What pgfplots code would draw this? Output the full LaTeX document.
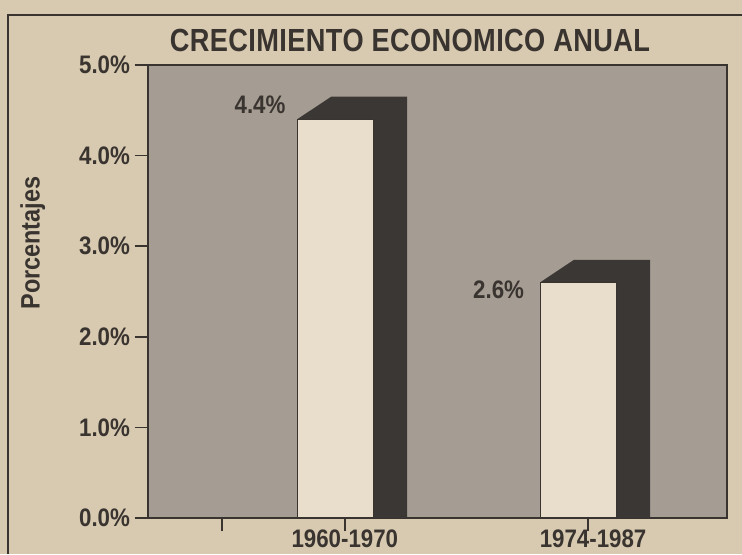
\documentclass[border=0pt]{standalone}
\usepackage{fontspec}
\setmainfont{Liberation Sans}[FakeStretch=0.88]
\newfontfamily\titlefont{Liberation Sans}[FakeStretch=0.85, LetterSpace=1.2]
\usepackage{pgfplots}
\pgfplotsset{compat=1.18}
\definecolor{paper}{HTML}{D8CAB0}
\definecolor{plotbg}{HTML}{A59D93}
\definecolor{front}{HTML}{E8DECB}
\definecolor{shadow}{HTML}{3B3734}
\definecolor{ink}{HTML}{3A3430}
\begin{document}
\begin{tikzpicture}
\useasboundingbox (0,0) rectangle (556.5pt,415.5pt);
\fill[paper] (0,0) rectangle (556.5pt,415.5pt);
\draw[ink, line width=2.2pt] (6pt,0) -- (6pt,404.25pt) -- (556.5pt,404.25pt);
\node[text=ink, font=\titlefont\bfseries\fontsize{24}{27}\selectfont] at (307.5pt,385pt) {CRECIMIENTO ECONOMICO ANUAL};
\begin{axis}[
  at={(111pt,27pt)}, anchor=south west,
  scale only axis, width=434.25pt, height=339.75pt,
  xmin=0.23, xmax=2.613, ymin=0, ymax=5,
  axis background/.style={fill=plotbg},
  axis line style={ink, line width=1.2pt},
  ytick={0,1,2,3,4,5},
  yticklabels={0.0\%,1.0\%,2.0\%,3.0\%,4.0\%,5.0\%},
  xtick={0.535,1.04,2.04},
  xticklabels={,1960-1970,\hspace{8pt}1974-1987},
  tick align=outside, tick pos=left, major tick length=10pt,
  tick style={ink, line width=1.2pt},
  ticklabel style={font=\bfseries\fontsize{19}{21}\selectfont, text=ink},
  xticklabel style={yshift=5pt},
  ylabel={Porcentajes},
  ylabel style={font=\bfseries\fontsize{20}{22}\selectfont, text=ink, at={(axis description cs:-0.199,0.607)}, anchor=center},
  clip=false,
]
\addplot[fill=shadow, draw=none] coordinates {(0.8435,0) (0.8435,4.4) (0.9835,4.65) (1.2965,4.65) (1.2965,0)};
\addplot[fill=shadow, draw=none] coordinates {(1.8435,0) (1.8435,2.6) (1.9835,2.85) (2.2965,2.85) (2.2965,0)};
\addplot[ybar, bar width=0.313, fill=front, draw=ink, line width=0.8pt] coordinates {(1,4.4) (2,2.6)};
\node[anchor=east, text=ink, font=\bfseries\fontsize{19}{21}\selectfont] at (axis cs:0.815,4.56) {4.4\%};
\node[anchor=east, text=ink, font=\bfseries\fontsize{19}{21}\selectfont] at (axis cs:1.797,2.52) {2.6\%};
\end{axis}
\end{tikzpicture}
\end{document}
